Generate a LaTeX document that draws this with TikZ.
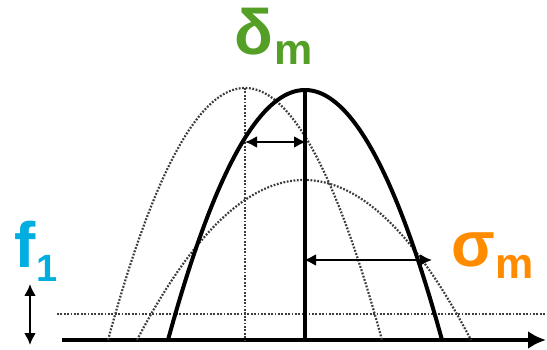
\documentclass[tikz,border=0pt]{standalone}
\usepackage{fontspec}
\setmainfont{Liberation Sans}
\usetikzlibrary{arrows.meta}
\definecolor{dgreen}{RGB}{84,160,38}
\definecolor{fcyan}{RGB}{0,174,224}
\definecolor{sorange}{RGB}{255,140,0}
\definecolor{dotgray}{RGB}{60,60,60}
\tikzset{
  boldline/.style={line width=4pt, black},
  dotline/.style={line width=2.2pt, dotgray, dash pattern=on 1.8pt off 1.6pt},
  dimarrow/.style={line width=2.2pt, {Latex[length=12pt,width=12pt]}-{Latex[length=12pt,width=12pt]}},
  lbl/.style={inner sep=0pt, anchor=base west, font=\bfseries},
}
\begin{document}
\begin{tikzpicture}[x=1pt,y=-1pt]
\useasboundingbox (0,0) rectangle (547,350);
% dotted horizontal line
\coordinate (dl) at (57,314);
\coordinate (dr) at (547,314);
\draw[dotline] (dl) -- (dr);
% axis
\coordinate (ax0) at (62,340);
\coordinate (ax1) at (546,340);
\draw[line width=4pt, -{Latex[length=18pt,width=18pt]}] (ax0) -- (ax1);
% tall dotted parabola
\draw[dotline] plot[domain=-137:137, samples=120] ({245+\x},{88+252*(\x/137)^2});
% wide dotted parabola
\draw[dotline] plot[domain=-167:167, samples=140] ({304+\x},{180+160*(\x/167)^2});
% dotted vertical
\coordinate (vt) at (245,88);
\coordinate (vb) at (245,340);
\draw[dotline] (vt) -- (vb);
% bold parabola
\draw[boldline] plot[domain=-137:137, samples=140] ({305+\x},{90+250*(\x/137)^2});
% bold vertical
\coordinate (bt) at (305,90);
\coordinate (bb) at (305,340);
\draw[boldline] (bt) -- (bb);
% delta arrow
\coordinate (d1) at (245,142);
\coordinate (d2) at (306,142);
\draw[dimarrow] (d1) -- (d2);
% sigma arrow
\coordinate (s1) at (304,260);
\coordinate (s2) at (432,260);
\draw[dimarrow] (s1) -- (s2);
% f1 arrow
\coordinate (f1t) at (30,284);
\coordinate (f1b) at (30,345);
\draw[dimarrow] (f1t) -- (f1b);
% labels
\node[lbl, text=dgreen] (delta) at (234,55) {\fontsize{64}{64}\selectfont δ\kern1pt\raisebox{-10pt}{\fontsize{43}{43}\selectfont m}};
\node[lbl, text=fcyan] (f) at (14,268) {\fontsize{64}{64}\selectfont f\kern1pt\raisebox{-14pt}{\fontsize{38}{38}\selectfont 1}};
\node[lbl, text=sorange] (sigma) at (451,267) {\fontsize{64}{64}\selectfont σ\kern1pt\raisebox{-12pt}{\fontsize{43}{43}\selectfont m}};
\end{tikzpicture}
\end{document}
